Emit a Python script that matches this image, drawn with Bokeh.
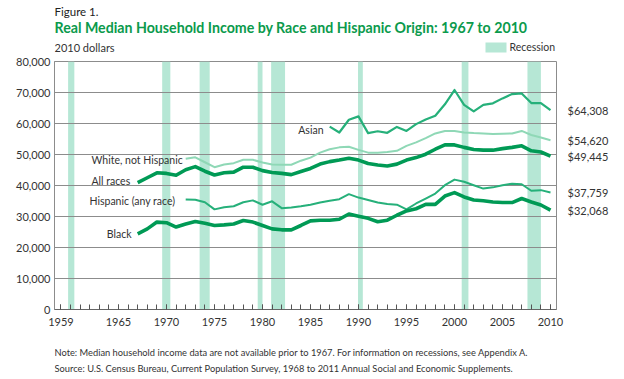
from bokeh.plotting import figure
from bokeh.layouts import column
from bokeh.models import (FixedTicker, NumeralTickFormatter, Label, BoxAnnotation,
                          Range1d, LinearAxis)
from bokeh.embed import file_html
from bokeh.resources import INLINE

# ---------------- data (2010 dollars) ----------------
years_all = list(range(1967, 2011))
all_races = [40900, 42500, 44100, 43900, 43300, 45100, 46100, 44600, 43400, 44100,
             44300, 45900, 45900, 44800, 44200, 43900, 43500, 44500, 45500, 46900,
             47700, 48200, 48800, 48200, 47100, 46600, 46300, 46900, 48200, 49000,
             50100, 51700, 53100, 53100, 52300, 51600, 51400, 51400, 51900, 52300,
             52800, 51200, 50800, 49445]
black = [24400, 26000, 28200, 28000, 26600, 27600, 28400, 27800, 27100, 27300,
         27600, 28700, 28200, 27100, 26000, 25700, 25700, 27100, 28600, 28800,
         28800, 29100, 30800, 30100, 29400, 28300, 28800, 30400, 31800, 32500,
         33900, 33900, 36600, 37700, 36300, 35300, 35100, 34700, 34500, 34500,
         35800, 34700, 33700, 32068]

years_72 = list(range(1972, 2011))
white_nh = [48600, 49100, 47500, 45900, 46800, 47200, 48300, 48300, 47400, 46800,
            46700, 46700, 48000, 49000, 50600, 51700, 52300, 52500, 51500, 50600,
            50600, 50800, 51200, 52800, 53900, 55300, 56800, 57600, 57600, 57100,
            56900, 56800, 56600, 56700, 56800, 57600, 56300, 55500, 54620]
hispanic = [35500, 35400, 34600, 32300, 33000, 33300, 34600, 35200, 33800, 34900,
            32700, 32900, 33300, 33800, 34500, 35100, 35600, 37200, 36100, 35300,
            34500, 34000, 33800, 32300, 34200, 35800, 37400, 40100, 41900, 41200,
            40100, 39000, 39400, 40100, 40600, 40400, 38300, 38500, 37759]

years_87 = list(range(1987, 2011))
asian = [59000, 57100, 61200, 62300, 56900, 57500, 57000, 58900, 57600, 59800,
         61300, 62500, 66200, 70800, 66000, 63900, 66000, 66500, 68100, 69500,
         69700, 66600, 66600, 64308]

rec_start = [1959.75, 1969.55, 1973.45, 1979.5, 1980.9, 1989.95, 2000.75, 2007.6]
rec_end = [1960.4, 1970.4, 1974.5, 1980.0, 1982.35, 1990.45, 2001.45, 2009.0]

major_years = [1959, 1965, 1970, 1975, 1980, 1985, 1990, 1995, 2000, 2005, 2010]
y_ticks = [0, 10000, 20000, 30000, 40000, 50000, 60000, 70000, 80000]

# ---------------- styles ----------------
DARK = "#009a55"
MID = "#26b07a"
LIGHT = "#8fd8b6"
REC = "#b6e7d5"
GRID = "#8c8c8c"
TXT = "#333333"
FONT = "Lato"
W = 624

# frame geometry in page pixels
FL, FR, FT, FB = 54, 556, 61, 309
x0, x1 = 1959 - (60.4 - FL) / 9.6, 1959 + (FR - 60.4) / 9.6
YMAX = 80000
PAD_TOP = 8
HEAD_H = FT - PAD_TOP
BOT_B = 28


def dx(px):
    return x0 + (px - FL) / (FR - FL) * (x1 - x0)


def dy(py):
    return (FB - py) / (FB - FT) * YMAX


def bare(h):
    # text-only strip whose frame lines up with the chart frame (x in page pixels)
    fig = figure(frame_width=FR - FL, frame_height=h, output_backend="svg",
                 toolbar_location=None,
                 x_range=Range1d(FL, FR), y_range=Range1d(h, 0),
                 x_axis_type=None, y_axis_type=None,
                 min_border_left=FL, min_border_right=W - FR,
                 min_border_top=0, min_border_bottom=0)
    fig.grid.visible = False
    fig.outline_line_color = None
    fig.background_fill_color = "white"
    fig.border_fill_color = "white"
    return fig


def tlab(fig, text, x, y, size, color=TXT, style="normal"):
    fig.add_layout(Label(x=x, y=y, text=text, text_font=FONT, text_font_size=size,
                         text_color=color, text_font_style=style, text_align="left",
                         text_baseline="middle"))


# ---------------- header ----------------
top = bare(HEAD_H)
tlab(top, "Figure 1.", 54, 11, "11.5px", color="#222222")
tlab(top, "Real Median Household Income by Race and Hispanic Origin: 1967 to 2010", 54, 27,
     "14.2px", color="#0b9a4c", style="bold")
tlab(top, "2010 dollars", 54, 46.5, "11px")
# "Recession" key
top.add_layout(BoxAnnotation(left=485, right=506, top=42, bottom=52,
                             fill_color=REC, fill_alpha=1, line_color=None))
tlab(top, "Recession", 509, 46.5, "10.5px")

# ---------------- main chart ----------------
p = figure(frame_width=FR - FL, frame_height=FB - FT, output_backend="svg",
           toolbar_location=None, x_range=Range1d(x0, x1), y_range=Range1d(0, YMAX),
           min_border_left=FL, min_border_right=W - FR, min_border_top=PAD_TOP,
           min_border_bottom=BOT_B)
p.background_fill_color = "white"
p.border_fill_color = "white"
p.outline_line_color = GRID
p.outline_line_width = 1

p.xgrid.visible = False
p.ygrid.grid_line_color = GRID
p.ygrid.grid_line_width = 1

p.xaxis.ticker = FixedTicker(ticks=major_years, minor_ticks=list(range(1959, 2011)))
p.xaxis.major_tick_in = 5
p.xaxis.major_tick_out = 0
p.xaxis.minor_tick_in = 5
p.xaxis.minor_tick_out = 0
p.xaxis.major_tick_line_color = "#555555"
p.xaxis.minor_tick_line_color = "#555555"
p.xaxis.axis_line_color = "#666666"
p.xaxis.major_label_text_font = FONT
p.xaxis.major_label_text_font_size = "11px"
p.xaxis.major_label_text_color = TXT
p.xaxis.major_label_standoff = 8

p.yaxis.ticker = FixedTicker(ticks=y_ticks)
p.yaxis.formatter = NumeralTickFormatter(format="0,0")
p.yaxis.major_tick_in = 0
p.yaxis.major_tick_out = 0
p.yaxis.minor_tick_line_color = None
p.yaxis.axis_line_color = GRID
p.yaxis.major_label_text_font = FONT
p.yaxis.major_label_text_font_size = "11px"
p.yaxis.major_label_text_color = TXT
p.yaxis.major_label_standoff = 4

# end-of-series values as a right axis
end_vals = [asian[-1], white_nh[-1], all_races[-1], hispanic[-1], black[-1]]
right = LinearAxis(ticker=FixedTicker(ticks=end_vals),
                   formatter=NumeralTickFormatter(format="$0,0"),
                   axis_line_color=None, major_tick_line_color=None,
                   minor_tick_line_color=None, major_label_standoff=5,
                   major_label_text_font=FONT, major_label_text_font_size="11px",
                   major_label_text_color=TXT)
p.add_layout(right, "right")

# recession bars
p.quad(left=rec_start, right=rec_end, bottom=0, top=YMAX,
       fill_color=REC, line_color=None, level="image")

# series lines
p.line(years_72, white_nh, line_width=2, color=LIGHT, line_join="round")
p.line(years_87, asian, line_width=2.2, color=MID, line_join="round")
p.line(years_72, hispanic, line_width=2, color=MID, line_join="round")
p.line(years_all, all_races, line_width=3.6, color=DARK, line_join="round")
p.line(years_all, black, line_width=3.6, color=DARK, line_join="round")


def lab(text, px, py, align="left"):
    p.add_layout(Label(x=dx(px), y=dy(py), text=text, text_font=FONT,
                       text_font_size="10.5px", text_color=TXT, text_align=align,
                       text_baseline="middle"))


lab("Asian", 323, 129, align="right")
lab("White, not Hispanic", 91, 159)
lab("All races", 91, 180)
lab("Hispanic (any race)", 89, 200)
lab("Black", 131, 233, align="right")

# ---------------- notes ----------------
NOTE_TOP = FB + BOT_B
NOTE_H = 379 - NOTE_TOP
notes = bare(NOTE_H)
tlab(notes, "Note: Median household income data are not available prior to 1967. "
            "For information on recessions, see Appendix A.", 54, 352 - NOTE_TOP, "9.3px")
tlab(notes, "Source: U.S. Census Bureau, Current Population Survey, 1968 to 2011 Annual "
            "Social and Economic Supplements.", 54, 368 - NOTE_TOP, "9.3px")

layout = column(top, p, notes, spacing=0)
open("out.html", "w").write(file_html(layout, INLINE))
